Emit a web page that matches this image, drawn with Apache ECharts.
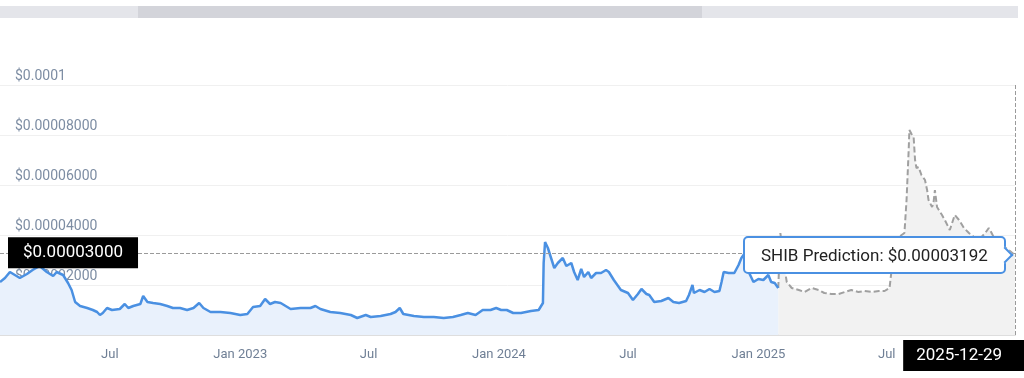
<!DOCTYPE html>
<html>
<head>
<meta charset="utf-8">
<script src="https://cdn.jsdelivr.net/npm/echarts@6/dist/echarts.min.js"></script>
<style>
  html, body { margin: 0; padding: 0; background: #fff; }
  #chart { width: 1024px; height: 378px; }
</style>
</head>
<body>
<div id="chart"></div>
<script>
// ---------- data ----------
const histDates = [
  '2022-01-27','2022-02-03','2022-02-10','2022-02-17','2022-02-24','2022-03-06','2022-03-14','2022-03-24',
  '2022-04-03','2022-04-12','2022-04-17','2022-04-26','2022-05-03','2022-05-08','2022-05-13','2022-05-20',
  '2022-05-30','2022-06-07','2022-06-13','2022-06-17','2022-06-21','2022-06-27','2022-07-04','2022-07-15',
  '2022-07-22','2022-07-27','2022-08-03','2022-08-13','2022-08-17','2022-08-23','2022-08-31','2022-09-10',
  '2022-09-20','2022-09-28','2022-10-08','2022-10-18','2022-10-27','2022-11-04','2022-11-10','2022-11-20',
  '2022-12-04','2022-12-18','2023-01-01','2023-01-11','2023-01-19','2023-01-29','2023-02-05','2023-02-12',
  '2023-02-19','2023-02-27','2023-03-13','2023-03-27','2023-04-10','2023-04-17','2023-04-24','2023-05-08',
  '2023-05-22','2023-06-06','2023-06-15','2023-06-27','2023-07-04','2023-07-18','2023-08-01','2023-08-08',
  '2023-08-14','2023-08-19','2023-09-03','2023-09-17','2023-10-01','2023-10-15','2023-10-28','2023-11-08',
  '2023-11-18','2023-11-29','2023-12-09','2023-12-20','2023-12-28','2024-01-04','2024-01-12','2024-01-21',
  '2024-01-28','2024-02-01','2024-02-15','2024-02-26','2024-03-03','2024-03-04','2024-03-06','2024-03-10',
  '2024-03-14','2024-03-19','2024-03-24','2024-03-31','2024-04-05','2024-04-12','2024-04-16','2024-04-21',
  '2024-04-26','2024-04-30','2024-05-06','2024-05-10','2024-05-17','2024-05-24','2024-05-31','2024-06-04',
  '2024-06-11','2024-06-21','2024-07-01','2024-07-08','2024-07-15','2024-07-20','2024-07-27','2024-07-31',
  '2024-08-07','2024-08-17','2024-08-27','2024-09-03','2024-09-11','2024-09-21','2024-09-25','2024-09-30',
  '2024-10-02','2024-10-10','2024-10-17','2024-10-24','2024-10-31','2024-11-07','2024-11-10','2024-11-13',
  '2024-11-20','2024-11-28','2024-12-04','2024-12-08','2024-12-12','2024-12-19','2024-12-25','2025-01-01',
  '2025-01-08','2025-01-15','2025-01-19','2025-01-24','2025-01-29'
];
const histValues = [
  2.12e-5,2.28e-5,2.52e-5,2.40e-5,2.28e-5,2.44e-5,2.60e-5,2.76e-5,
  2.52e-5,2.36e-5,2.52e-5,2.40e-5,2.08e-5,1.80e-5,1.32e-5,1.16e-5,
  1.08e-5,1.00e-5,0.92e-5,0.80e-5,0.88e-5,1.08e-5,1.00e-5,1.04e-5,
  1.24e-5,1.08e-5,1.16e-5,1.24e-5,1.56e-5,1.32e-5,1.28e-5,1.24e-5,
  1.16e-5,1.08e-5,1.08e-5,1.00e-5,1.08e-5,1.28e-5,1.08e-5,0.92e-5,
  0.92e-5,0.88e-5,0.80e-5,0.84e-5,1.12e-5,1.16e-5,1.44e-5,1.24e-5,
  1.32e-5,1.28e-5,1.04e-5,1.08e-5,1.08e-5,1.16e-5,1.04e-5,0.92e-5,
  0.88e-5,0.80e-5,0.68e-5,0.80e-5,0.72e-5,0.76e-5,0.84e-5,0.92e-5,
  1.08e-5,0.84e-5,0.76e-5,0.72e-5,0.72e-5,0.68e-5,0.72e-5,0.80e-5,
  0.88e-5,0.80e-5,1.00e-5,1.00e-5,1.08e-5,1.00e-5,1.00e-5,0.88e-5,
  0.88e-5,0.88e-5,0.96e-5,1.00e-5,1.28e-5,2.88e-5,3.72e-5,3.48e-5,
  3.12e-5,2.68e-5,2.88e-5,3.08e-5,2.76e-5,2.88e-5,2.52e-5,2.20e-5,
  2.64e-5,2.32e-5,2.52e-5,2.28e-5,2.48e-5,2.48e-5,2.60e-5,2.52e-5,
  2.20e-5,1.80e-5,1.68e-5,1.40e-5,1.64e-5,1.84e-5,1.64e-5,1.60e-5,
  1.32e-5,1.36e-5,1.48e-5,1.32e-5,1.28e-5,1.36e-5,1.60e-5,2.00e-5,
  1.68e-5,1.80e-5,1.72e-5,1.84e-5,1.72e-5,1.76e-5,2.12e-5,2.52e-5,
  2.48e-5,2.48e-5,2.80e-5,3.08e-5,3.24e-5,2.48e-5,2.12e-5,2.24e-5,
  2.20e-5,2.40e-5,2.12e-5,2.08e-5,1.88e-5
];
const predDates = [
  '2025-01-29','2025-02-01','2025-02-05','2025-02-10','2025-02-17','2025-02-27','2025-03-07','2025-03-17',
  '2025-03-27','2025-04-04','2025-04-14','2025-04-24','2025-05-03','2025-05-12','2025-05-22','2025-05-31',
  '2025-06-10','2025-06-20','2025-06-28','2025-07-05','2025-07-09','2025-07-12','2025-07-18','2025-07-26',
  '2025-07-29','2025-08-01','2025-08-02','2025-08-05','2025-08-08','2025-08-10','2025-08-12','2025-08-15',
  '2025-08-19','2025-08-24','2025-08-27','2025-08-29','2025-09-03','2025-09-05','2025-09-07','2025-09-10',
  '2025-09-17','2025-09-21','2025-09-28','2025-10-05','2025-10-11','2025-10-18','2025-10-25','2025-11-01',
  '2025-11-08','2025-11-17','2025-11-22','2025-11-26','2025-12-01','2025-12-11','2025-12-20','2025-12-29'
];
const predValues = [
  1.88e-5,4.08e-5,3.00e-5,2.12e-5,1.88e-5,1.80e-5,1.72e-5,1.88e-5,
  1.80e-5,1.68e-5,1.64e-5,1.64e-5,1.72e-5,1.80e-5,1.72e-5,1.76e-5,
  1.72e-5,1.76e-5,1.76e-5,1.88e-5,2.88e-5,3.80e-5,3.92e-5,4.08e-5,
  5.40e-5,7.40e-5,8.20e-5,8.04e-5,7.92e-5,7.00e-5,6.68e-5,6.72e-5,
  6.40e-5,6.20e-5,5.80e-5,5.40e-5,5.12e-5,5.28e-5,5.80e-5,5.12e-5,
  4.80e-5,4.60e-5,4.20e-5,4.80e-5,4.60e-5,4.28e-5,4.08e-5,3.92e-5,
  3.80e-5,4.08e-5,4.28e-5,4.08e-5,3.80e-5,3.60e-5,3.40e-5,3.192e-5
];
const xStart = '2022-01-27';
const xEnd = '2025-12-29';
const xLabelDates = ['2022-07-01','2023-01-01','2023-07-01','2024-01-01','2024-07-01','2025-01-01','2025-07-01'];
const yMax = 0.0001;
const yStep = 0.00002;
const yTickLabels = ['$0.00','$0.00002000','$0.00004000','$0.00006000','$0.00008000','$0.0001'];
const histName = 'SHIB Price';
const predName = 'SHIB Prediction';
const cursorDate = '2025-12-29';
const cursorValue = 0.0000329;
// ---------- chart ----------
const FONT = 'Roboto, "Noto Sans", sans-serif';
const ts = s => new Date(s + 'T00:00:00').getTime();
const pad2 = n => (n < 10 ? '0' : '') + n;
const zip = (a, b) => a.map((d, i) => [ts(d), b[i]]);
const chart = echarts.init(document.getElementById('chart'), null, { renderer: 'canvas' });

const option = {
  animation: false,
  backgroundColor: '#ffffff',
  textStyle: { fontFamily: FONT },
  grid: { left: 0, right: 9, top: 85, bottom: 43, containLabel: false },
  graphic: [
    { type: 'rect', left: 0, top: 6, shape: { width: 1018, height: 12 }, style: { fill: '#e4e5ea' }, silent: true },
    { type: 'rect', left: 138, top: 6, shape: { width: 564, height: 12 }, style: { fill: '#d3d4da' }, silent: true }
  ],
  tooltip: {
    trigger: 'axis',
    triggerOn: 'none',
    alwaysShowContent: true,
    transitionDuration: 0,
    backgroundColor: '#ffffff',
    borderColor: '#4a90e2',
    borderWidth: 2,
    borderRadius: 5,
    padding: [4, 16],
    textStyle: { fontFamily: FONT, fontSize: 17, color: '#222' },
    extraCssText: 'box-shadow:none;',
    axisPointer: { type: 'cross' },
    formatter: function (params) {
      const p = params.find(q => q.seriesName === predName) || params[0];
      const arrow = '<span style="position:absolute;right:-7px;top:50%;width:10px;height:10px;margin-top:-6px;background:#fff;' +
        'border-top:2px solid #4a90e2;border-right:2px solid #4a90e2;transform:rotate(45deg);"></span>';
      return p.seriesName + ': $' + p.value[1].toFixed(8) + arrow;
    },
    position: function (point, params, dom, rect, size) {
      const p = params.find(q => q.seriesName === predName) || params[0];
      const px = chart.convertToPixel({ xAxisIndex: 0 }, p.value[0]);
      const py = chart.convertToPixel({ yAxisIndex: 0 }, p.value[1]);
      return [px - size.contentSize[0] - 9, py - size.contentSize[1] / 2];
    }
  },
  xAxis: {
    type: 'value',
    min: ts(xStart),
    max: ts(xEnd),
    axisLine: { show: true, lineStyle: { color: '#dedede', width: 2 } },
    axisTick: { show: false },
    splitLine: { show: false },
    axisLabel: {
      customValues: xLabelDates.map(ts),
      color: '#6f7f95',
      fontSize: 13,
      fontFamily: FONT,
      margin: 13,
      formatter: function (v) {
        const d = new Date(v);
        return d.getMonth() === 0 ? 'Jan ' + d.getFullYear() : 'Jul';
      }
    },
    axisPointer: {
      snap: true,
      lineStyle: { color: '#9a9a9a', type: 'dashed', width: 1 },
      label: {
        show: true,
        backgroundColor: '#000',
        color: '#fff',
        fontSize: 17,
        fontFamily: FONT,
        padding: [7, 22, 7, 13],
        margin: 5,
        borderRadius: 0,
        formatter: function (p) {
          const d = new Date(p.value);
          return d.getFullYear() + '-' + pad2(d.getMonth() + 1) + '-' + pad2(d.getDate());
        }
      }
    }
  },
  yAxis: {
    type: 'value',
    min: 0,
    max: yMax,
    interval: yStep,
    axisLine: { show: false },
    axisTick: { show: false },
    splitLine: { show: true, lineStyle: { color: '#f0f0f0', width: 1 } },
    axisLabel: {
      inside: true,
      margin: 15,
      verticalAlign: 'bottom',
      padding: [0, 0, 2, 0],
      color: '#7d8da3',
      fontSize: 14,
      fontFamily: FONT,
      formatter: function (v) { return yTickLabels[Math.round(v / yStep)]; }
    },
    axisPointer: {
      snap: false,
      lineStyle: { color: '#9a9a9a', type: 'dashed', width: 1 },
      label: {
        show: true,
        backgroundColor: '#000',
        color: '#fff',
        fontSize: 17,
        fontFamily: FONT,
        padding: [7, 15],
        margin: 8,
        borderRadius: 0,
        formatter: function (p) { return '$' + (Math.round(p.value * 1e5) / 1e5).toFixed(8); }
      }
    }
  },
  series: [
    {
      name: histName,
      type: 'line',
      data: zip(histDates, histValues),
      symbol: 'none',
      lineStyle: { color: '#4a90e2', width: 2.5 },
      itemStyle: { color: '#4a90e2' },
      areaStyle: { color: '#e9f1fc', opacity: 1 },
      emphasis: { disabled: true },
      z: 3
    },
    {
      name: predName,
      type: 'line',
      data: zip(predDates, predValues),
      symbol: 'none',
      lineStyle: { color: '#a0a0a0', width: 2, type: [6, 3] },
      itemStyle: { color: '#a0a0a0' },
      areaStyle: { color: '#f2f2f2', opacity: 1 },
      emphasis: { disabled: true },
      z: 2
    }
  ]
};
chart.setOption(option);
const tipX = chart.convertToPixel({ xAxisIndex: 0 }, ts(cursorDate));
const tipY = chart.convertToPixel({ yAxisIndex: 0 }, cursorValue);
chart.dispatchAction({ type: 'showTip', x: tipX, y: tipY });
</script>
</body>
</html>
